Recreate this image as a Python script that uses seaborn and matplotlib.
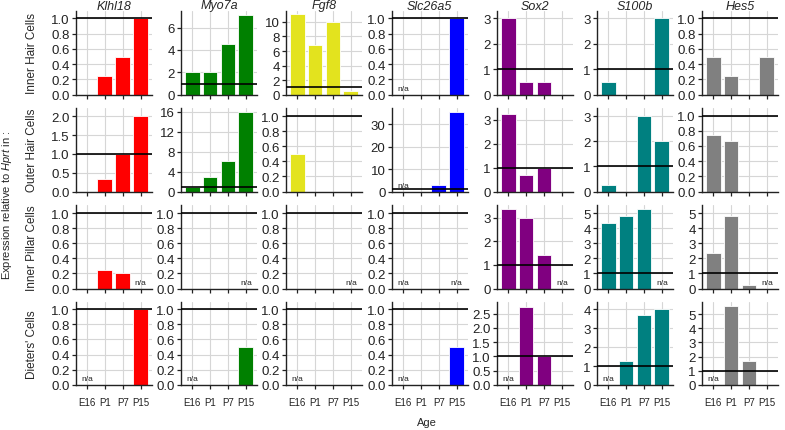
import numpy as np
import pandas as pd
import seaborn as sns
import matplotlib.pyplot as plt
from matplotlib.ticker import MultipleLocator

nan = np.nan

ages = ['E16', 'P1', 'P7', 'P15']
genes = ['Klhl18', 'Myo7a', 'Fgf8', 'Slc26a5', 'Sox2', 'S100b', 'Hes5']
cells = ['Inner Hair Cells', 'Outer Hair Cells', 'Inner Pillar Cells', "Dieters' Cells"]
colors = ['#ff0000', '#008000', '#e3e31e', '#0000ff', '#800080', '#008080', '#808080']

# expression per gene (E16, P1, P7, P15); nan = n/a
inner_hair = [[0, 0.25, 0.5, 1.0], [2, 2, 4.55, 7.1], [11.1, 6.8, 10, 0.55], [nan, 0, 0, 1.0],
              [3, 0.5, 0.5, 0], [0.5, 0, 0, 3], [0.5, 0.25, 0, 0.5]]
outer_hair = [[0, 0.33, 1.0, 2.0], [1, 3, 6.1, 16], [0.5, 0, 0, 0], [nan, 0, 3.1, 35.3],
              [3.25, 0.69, 1.0, 0], [0.25, 0, 3, 2], [0.75, 0.67, 0, 0]]
inner_pillar = [[0, 0.25, 0.2, nan], [0, 0, 0, nan], [0, 0, 0, nan], [nan, 0, 0, nan],
                [3.35, 3.0, 1.4, nan], [4.35, 4.8, 5.25, nan], [2.35, 4.8, 0.22, nan]]
dieters = [[nan, 0, 0, 1.0], [nan, 0, 0, 0.5], [nan, 0, 0, 0], [nan, 0, 0, 0.5],
           [nan, 2.72, 1.0, 0], [nan, 1.25, 3.7, 4.0], [nan, 5.6, 1.67, 0]]
rows = [inner_hair, outer_hair, inner_pillar, dieters]

# axis ranges and tick steps
ytops = [[1.095, 7.47, 11.47, 1.095, 3.28, 3.28, 1.095],
         [2.22, 16.7, 1.11, 37.2, 3.49, 3.32, 1.1],
         [1.11, 1.11, 1.11, 1.11, 3.53, 5.54, 5.54],
         [1.1, 1.1, 1.1, 1.1, 2.92, 4.4, 5.89]]
ysteps = [[0.2, 2, 2, 0.2, 1, 1, 0.2],
          [0.5, 4, 0.2, 10, 1, 1, 0.2],
          [0.2, 0.2, 0.2, 0.2, 1, 1, 1],
          [0.2, 0.2, 0.2, 0.2, 0.5, 1, 1]]

sns.set_style('white')
plt.rcParams['font.family'] = ['Liberation Sans', 'DejaVu Sans']
plt.rcParams['mathtext.fontset'] = 'custom'
plt.rcParams['mathtext.rm'] = 'Liberation Sans'
plt.rcParams['mathtext.it'] = 'Liberation Sans:italic'

W, H = 785, 431
fig = plt.figure(figsize=(W / 100, H / 100), dpi=100)

lefts = [75.7, 181, 286, 391.7, 497, 597, 702]
bottoms = [95.7, 192.5, 289.5, 386]
aw, ah = 76, 83.5

for r, row in enumerate(rows):
    for c, gene in enumerate(genes):
        ax = fig.add_axes([lefts[c] / W, 1 - bottoms[r] / H, aw / W, ah / H])
        vals = np.array(row[c], dtype=float)
        df = pd.DataFrame({'age': ages, 'value': np.nan_to_num(vals)})
        sns.barplot(data=df, x='age', y='value', order=ages, color=colors[c],
                    saturation=1, width=0.83, edgecolor='white', linewidth=0.6,
                    errorbar=None, ax=ax, zorder=2)
        ax.axhline(1, color='black', lw=1.2, zorder=4)
        ax.set_xlim(-0.62, 3.62)
        ax.set_ylim(0, ytops[r][c])
        ax.yaxis.set_major_locator(MultipleLocator(ysteps[r][c]))
        ax.set_axisbelow(True)
        ax.grid(True, color='#d6d6d6', lw=0.8)
        for s in ['top', 'right']:
            ax.spines[s].set_visible(False)
        for s in ['left', 'bottom']:
            ax.spines[s].set_color('#222222')
            ax.spines[s].set_linewidth(1)
        ax.tick_params(axis='y', labelsize=9.5, length=3, width=0.9, pad=1.5,
                       colors='#222222', left=True)
        ax.tick_params(axis='x', labelsize=7, length=3, width=0.9, pad=6,
                       colors='#222222', bottom=True)
        ax.set_xlabel('')
        ax.set_ylabel('')
        if r < 3:
            ax.set_xticklabels([])
        for i, v in enumerate(vals):
            if np.isnan(v):
                ax.annotate('n/a', (i, 0), xytext=(0, 2), textcoords='offset points',
                            ha='center', va='bottom', fontsize=6, color='#222222')
        if r == 0:
            fig.text((lefts[c] + aw / 2) / W, 1 - 6.5 / H, gene, ha='center', va='center',
                     fontsize=9, style='italic')
    fig.text(32 / W, 1 - (bottoms[r] - ah / 2) / H, cells[r], rotation=90,
             ha='center', va='center', fontsize=8.5)

fig.text(7.5 / W, 1 - 205 / H, r'Expression relative to $\mathit{Hprt}$ in :', rotation=90,
         ha='center', va='center', fontsize=8)
fig.text(427 / W, 1 - 423 / H, 'Age', ha='center', va='center', fontsize=8)

fig.savefig('out.png', dpi=100)
